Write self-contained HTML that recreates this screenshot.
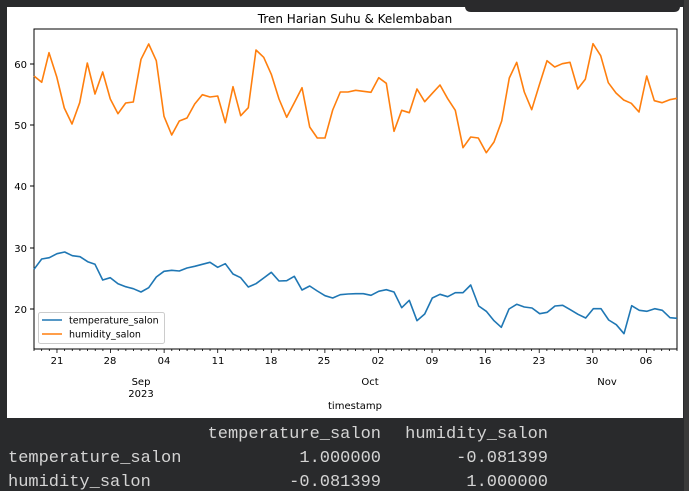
<!DOCTYPE html>
<html><head><meta charset="utf-8"><style>
html,body{margin:0;padding:0;background:#292a2c;width:689px;height:491px;overflow:hidden}
svg{display:block}
</style></head><body>
<svg width="689" height="491" viewBox="0 0 689 491" xmlns="http://www.w3.org/2000/svg" font-family="DejaVu Sans, Liberation Sans, sans-serif">
<rect x="0" y="0" width="689" height="491" fill="#292a2c"/>
<rect x="7" y="7" width="676" height="411" fill="#ffffff"/>
<rect x="684" y="0" width="5" height="491" fill="#3a3a3a"/>
<path d="M465 0 H680 V6 Q680 12 674 12 H471 Q465 12 465 6 Z" fill="#2a2a2c"/>
<text x="355" y="23" font-size="12" text-anchor="middle" fill="#000">Tren Harian Suhu &amp; Kelembaban</text>
<rect x="34" y="29" width="643" height="320" fill="none" stroke="#000" stroke-width="1"/>
<g font-size="10" fill="#000" text-anchor="end">
<line x1="30" y1="64" x2="34" y2="64" stroke="#000"/><text x="27" y="68">60</text>
<line x1="30" y1="125" x2="34" y2="125" stroke="#000"/><text x="27" y="129">50</text>
<line x1="30" y1="186" x2="34" y2="186" stroke="#000"/><text x="27" y="190">40</text>
<line x1="30" y1="248" x2="34" y2="248" stroke="#000"/><text x="27" y="252">30</text>
<line x1="30" y1="309" x2="34" y2="309" stroke="#000"/><text x="27" y="313">20</text>
</g>
<g id="minor" stroke="#000" stroke-width="0.8"></g>
<g font-size="10" fill="#000" text-anchor="middle">
<text x="57" y="364">21</text><text x="110" y="364">28</text><text x="164" y="364">04</text><text x="218" y="364">11</text><text x="271" y="364">18</text><text x="324" y="364">25</text><text x="378" y="364">02</text><text x="432" y="364">09</text><text x="485" y="364">16</text><text x="539" y="364">23</text><text x="592" y="364">30</text><text x="646" y="364">06</text>
<text x="141" y="385">Sep</text><text x="141" y="397">2023</text><text x="370" y="385">Oct</text><text x="607" y="385">Nov</text>
<text x="355" y="409">timestamp</text>
</g>
<polyline fill="none" stroke="#ff7f0e" stroke-width="1.6" stroke-linejoin="round" points="34,76 41.7,82.3 49,52.7 56.7,76.7 64.3,108 72,124 79.7,102.7 87.3,63 95,94 102.7,72 110.3,99 118,113.7 125.7,103 133.3,102 141,59.3 148.7,44 156.3,60.7 164,116.3 171.7,135 179.3,121 187,118 194.7,104 202.3,94.7 210,97 217.7,96 225.3,122.7 233,86.7 240.7,115.7 248.3,107.7 256,50 263.7,57.3 271.3,74.3 279,99 286.7,117.3 294.3,102.7 302,87.7 309.7,127 317.3,138 325,138 332.7,110 340.3,92 348,92 355.7,90.3 363.3,91.3 371,92.3 378.7,77.7 386.3,83.3 394,131.3 401.7,110.3 409.3,112.7 417,89 424.7,101.7 432.3,93.3 440,85 447.7,98.7 455.3,110.3 463,147.7 470.7,137 478.3,138 486.3,152.7 494,142 501.7,121 509.3,78 516.7,62.3 524.3,92 531.7,109.7 539.3,85 547,60.7 554.7,67 562.3,63.7 570,62.3 577.7,89 585.3,79.3 593,43.7 600.7,55.7 608.3,82.7 616,93 623.7,100 631.3,103.3 639,112 646.7,76 654.3,100.7 662,102.7 669.7,99.7 677,98.3"/>
<polyline fill="none" stroke="#1f77b4" stroke-width="1.6" stroke-linejoin="round" points="34,269.3 41.7,259 49.3,257.7 57,253.7 64.7,252 72.3,255.7 80,256.7 87.7,261.7 95,264.3 102.7,280 110.3,277.7 118,283.7 125.7,286.7 133.3,288.7 141,292 148.7,287.7 156.3,277 164,271.3 171.7,270.3 179.3,271 187,268 194.7,266.3 202.3,264.3 210,262.3 217.7,267.3 225.3,263.7 233,274 240.7,277.7 248.3,287 256,283.7 263.7,278 271.3,272.3 279,281 286.7,280.7 294.3,276.3 302,290 309.7,286 317.3,291 325,295.7 332.7,298 340.3,294.7 348,294 355.7,293.7 363.3,293.7 371,295.3 378.7,291.3 386.3,289.7 394,292 401.7,307.7 409.3,300.3 417,320.7 424.7,314 432.3,298 440,294.3 447.7,296.7 455.3,292.7 463,292.7 470.7,285 478.7,306 486.3,311.3 494,320.7 501.3,327.3 509,309 516.7,304.3 524.3,307 532,308 539.7,313.7 547.3,312.3 555,306 562.7,305.3 570.3,309.7 578,314.3 585.7,318 593.3,308.7 601,308.7 608.7,320 616.3,324.7 624,333.7 631.7,305.7 639.3,310.3 647,311.3 654.7,308.7 662.3,310.3 670,317.7 677,318.3"/>
<rect x="38.5" y="312.5" width="126" height="31" rx="2" fill="#fff" fill-opacity="0.85" stroke="#ccc"/>
<line x1="42" y1="320" x2="62" y2="320" stroke="#1f77b4" stroke-width="1.6"/>
<line x1="42" y1="334" x2="62" y2="334" stroke="#ff7f0e" stroke-width="1.6"/>
<text x="69" y="323.5" font-size="9.5" fill="#000">temperature_salon</text>
<text x="69" y="337.5" font-size="9.5" fill="#000">humidity_salon</text>
<g font-family="Liberation Mono, DejaVu Sans Mono, monospace" font-size="17" fill="#d4d4d4">
<text x="381" y="438" text-anchor="end">temperature_salon</text>
<text x="548" y="438" text-anchor="end">humidity_salon</text>
<text x="8" y="462">temperature_salon</text>
<text x="381" y="462" text-anchor="end">1.000000</text>
<text x="548" y="462" text-anchor="end">-0.081399</text>
<text x="8" y="486">humidity_salon</text>
<text x="381" y="486" text-anchor="end">-0.081399</text>
<text x="548" y="486" text-anchor="end">1.000000</text>
</g>
</svg>
<script>
var g=document.getElementById('minor'),s='';
for(var i=0;i<=84;i++){var x=34+i*643/84;var major=((i-3)%7===0);s+='<line x1="'+x+'" y1="349" x2="'+x+'" y2="'+(349+(major?4:2))+'"/>';}
g.innerHTML=s;
</script>
</body></html>
